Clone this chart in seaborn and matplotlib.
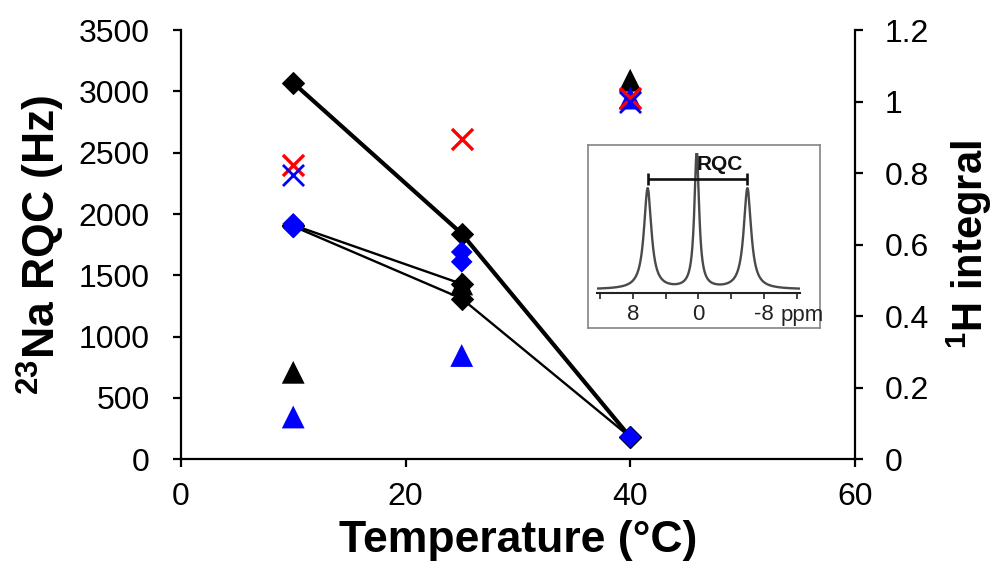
import numpy as np
import pandas as pd
import matplotlib
matplotlib.use("Agg")
import matplotlib.pyplot as plt
import seaborn as sns

# ---- data -------------------------------------------------------------
temps = [10, 25, 40]

# 23Na RQC (Hz), series joined by lines
rqc_a = [3070, 1840, 180]
rqc_b = [1900, 1310, 180]
rqc_c_temps = [10, 25]
rqc_c = [1910, 1430]

# 23Na RQC (Hz), blue diamonds
blue_rqc_temps = [10, 10, 25, 25, 40]
blue_rqc = [1920, 1890, 1690, 1610, 180]

# 1H integral (right axis)
tri_black = [0.243, 0.49, 1.06]
tri_blue = [0.118, 0.29, 1.01]
cross_red = [0.822, 0.895, 1.01]
cross_blue_temps = [10, 40]
cross_blue = [0.794, 1.00]

left_ticks = [0, 500, 1000, 1500, 2000, 2500, 3000, 3500]
right_ticks = [0, 0.2, 0.4, 0.6, 0.8, 1.0, 1.2]
right_tick_labels = ["0", "0.2", "0.4", "0.6", "0.8", "1", "1.2"]
x_ticks = [0, 20, 40, 60]

# inset spectrum: peak positions (ppm), heights, widths (FWHM, ppm)
peak_ppm = [6.2, 0.2, -6.0]
peak_height = [0.72, 0.98, 0.72]
peak_fwhm = [1.1, 0.7, 1.1]
spec_baseline = 0.025
spec_ticks = [12, 8, 4, 0, -4, -8, -12]
spec_tick_labels = ["", "8", "", "0", "", "-8", ""]

# ---- style -------------------------------------------------------------
sns.set_style("ticks")
plt.rcParams["font.family"] = ["Liberation Sans", "DejaVu Sans"]
plt.rcParams["mathtext.fontset"] = "custom"
plt.rcParams["mathtext.rm"] = "Liberation Sans"
plt.rcParams["mathtext.bf"] = "Liberation Sans:bold"
plt.rcParams["text.color"] = "black"
plt.rcParams["axes.labelcolor"] = "black"

fig = plt.figure(figsize=(9.94, 5.69), dpi=100)
ax = fig.add_axes([0.182, 0.193, 0.678, 0.754])

# lines with black diamonds
sns.lineplot(x=temps, y=rqc_a, ax=ax, color="black", lw=3.0, marker="D",
             markersize=11.5, markeredgecolor="black", sort=False, zorder=3)
sns.lineplot(x=temps, y=rqc_b, ax=ax, color="black", lw=1.7, marker="D",
             markersize=11.5, markeredgecolor="black", sort=False, zorder=3)
sns.lineplot(x=rqc_c_temps, y=rqc_c, ax=ax, color="black", lw=1.7, marker="D",
             markersize=11.5, markeredgecolor="black", sort=False, zorder=3)

# blue diamonds
sns.scatterplot(x=blue_rqc_temps, y=blue_rqc, ax=ax, marker="D", s=122,
                color="#0000ff", edgecolor="none", zorder=4)

ax.set_xlim(0, 60)
ax.set_ylim(0, 3500)
ax.set_xticks(x_ticks)
ax.set_yticks(left_ticks)
ax.spines["top"].set_visible(False)
ax.spines["right"].set_visible(False)
for s in ("left", "bottom"):
    ax.spines[s].set_linewidth(1.6)
    ax.spines[s].set_color("black")
ax.tick_params(axis="both", direction="out", length=5.5, width=1.6,
               labelsize=23, colors="black")
ax.tick_params(axis="y", pad=17)
ax.tick_params(axis="x", pad=11)
ax.set_xlabel("Temperature (°C)", fontsize=32, fontweight="bold", labelpad=6)
ax.set_ylabel(r"$\mathbf{^{23}}$Na RQC (Hz)", fontsize=32,
              fontweight="bold", labelpad=8)

# right axis: 1H integral
ax2 = ax.twinx()
sns.scatterplot(x=temps, y=tri_black, ax=ax2, marker="^", s=270,
                color="black", edgecolor="none", zorder=5)
sns.scatterplot(x=temps, y=tri_blue, ax=ax2, marker="^", s=270,
                color="#0000ff", edgecolor="none", zorder=5)
sns.scatterplot(x=temps, y=cross_red, ax=ax2, marker="x", s=230,
                color="#ff0000", linewidth=2.4, zorder=6)
sns.scatterplot(x=cross_blue_temps, y=cross_blue, ax=ax2, marker="x", s=230,
                color="#0000ff", linewidth=2.0, zorder=6)
ax2.set_ylim(0, 1.2)
ax2.set_yticks(right_ticks)
ax2.set_yticklabels(right_tick_labels)
ax2.spines["top"].set_visible(False)
ax2.spines["left"].set_visible(False)
ax2.spines["bottom"].set_visible(False)
ax2.spines["right"].set_linewidth(1.6)
ax2.spines["right"].set_color("black")
ax2.tick_params(axis="y", direction="out", length=5.5, width=1.6,
                labelsize=23, pad=16, colors="black")
ax2.set_ylabel(r"$\mathbf{^{1}}$H integral", fontsize=30,
               fontweight="bold", labelpad=11)

# ---- inset: 23Na spectrum --------------------------------------------
box = fig.add_axes([0.5915, 0.4236, 0.2334, 0.3216])
box.set_xticks([])
box.set_yticks([])
box.set_facecolor("white")
for s in box.spines.values():
    s.set_color("#8c8c8c")
    s.set_linewidth(1.3)

spec = fig.add_axes([0.6006, 0.485, 0.204, 0.246])
spec.patch.set_alpha(0)
ppm = np.linspace(12.4, -12.4, 1500)
intensity = np.full_like(ppm, spec_baseline)
for c, h, w in zip(peak_ppm, peak_height, peak_fwhm):
    g = w / 2
    intensity += h * g**2 / ((ppm - c) ** 2 + g**2)
spec_df = pd.DataFrame({"ppm": ppm, "intensity": intensity})
sns.lineplot(data=spec_df, x="ppm", y="intensity", ax=spec,
             color="#4a4a4a", lw=1.7)
spec.set_xlim(12.4, -12.4)
spec.set_ylim(0, 1.0)
spec.set_xticks(spec_ticks)
spec.set_xticklabels(spec_tick_labels)
spec.set_yticks([])
spec.set_xlabel("")
spec.set_ylabel("")
for s in ("left", "right", "top"):
    spec.spines[s].set_visible(False)
spec.spines["bottom"].set_linewidth(1.5)
spec.spines["bottom"].set_color("#222222")
spec.tick_params(axis="x", direction="out", length=4, width=1.2,
                 labelsize=16, pad=4, colors="#222222")
spec.text(-10.0, -0.083, "ppm", transform=spec.get_xaxis_transform(),
          ha="left", va="top", fontsize=16, color="#222222")

# RQC splitting bar
bar_y = 0.814
spec.hlines(bar_y, peak_ppm[0], peak_ppm[2], color="#111111", lw=1.9)
spec.vlines([peak_ppm[0], peak_ppm[2]], bar_y - 0.045, bar_y + 0.045,
            color="#111111", lw=1.9)
spec.text(-2.6, 0.915, "RQC", ha="center", va="center", fontsize=15,
          fontweight="bold", color="#111111")

fig.savefig("out.png", dpi=100)
